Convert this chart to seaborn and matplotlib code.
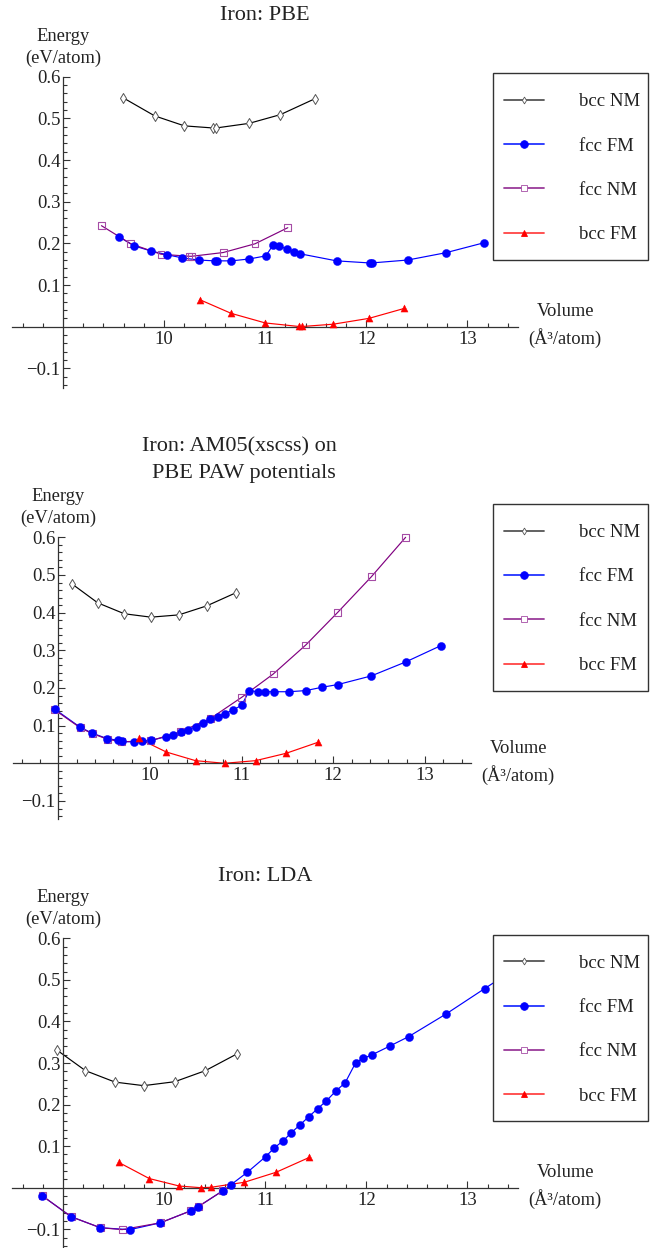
import numpy as np
import pandas as pd
import seaborn as sns
import matplotlib.pyplot as plt
from matplotlib.lines import Line2D
from matplotlib.patches import Rectangle
from matplotlib.ticker import FixedLocator, FuncFormatter

# ---------------- data: energy (eV/atom) vs volume (A^3/atom) ----------------
# PBE
pbe_bcc_nm_v = [9.597, 9.906, 10.20, 10.48, 10.515, 10.84, 11.15, 11.49]
pbe_bcc_nm_e = [0.549, 0.506, 0.482, 0.477, 0.477, 0.488, 0.509, 0.547]
pbe_fcc_fm_v = [9.552, 9.702, 9.866, 10.024, 10.181, 10.341, 10.499, 10.525, 10.666, 10.84,
                11.007, 11.079, 11.138, 11.213, 11.282, 11.344, 11.705, 12.033, 12.052,
                12.409, 12.787, 13.166]
pbe_fcc_fm_e = [0.216, 0.194, 0.182, 0.173, 0.165, 0.160, 0.158, 0.158, 0.158, 0.1625,
                0.170, 0.197, 0.193, 0.187, 0.180, 0.175, 0.158, 0.153, 0.153,
                0.160, 0.1776, 0.2016]
pbe_fcc_nm_v = [9.38, 9.67, 9.968, 10.246, 10.272, 10.584, 10.899, 11.223]
pbe_fcc_nm_e = [0.2424, 0.199, 0.174, 0.169, 0.169, 0.178, 0.199, 0.2376]
pbe_bcc_fm_v = [10.351, 10.663, 11.0, 11.334, 11.367, 11.672, 12.026, 12.377]
pbe_bcc_fm_e = [0.065, 0.032, 0.009, 0.0005, 0.0005, 0.006, 0.020, 0.044]

# AM05 (xscss) on PBE PAW potentials
am_bcc_nm_v = [9.145, 9.43, 9.72, 10.01, 10.315, 10.62, 10.94]
am_bcc_nm_e = [0.477, 0.426, 0.397, 0.388, 0.394, 0.418, 0.453]
am_fcc_fm_v = [8.96, 9.24, 9.37, 9.535, 9.655, 9.69, 9.825, 9.915, 10.01, 10.175, 10.255,
               10.335, 10.415, 10.5, 10.58, 10.66, 10.74, 10.82, 10.91, 11.0, 11.085,
               11.175, 11.26, 11.35, 11.515, 11.70, 11.88, 12.05, 12.415, 12.79, 13.175]
am_fcc_fm_e = [0.144, 0.0955, 0.080, 0.0655, 0.061, 0.058, 0.0567, 0.058, 0.061, 0.0705, 0.076,
               0.083, 0.089, 0.097, 0.106, 0.117, 0.124, 0.132, 0.142, 0.154, 0.193,
               0.190, 0.190, 0.190, 0.190, 0.193, 0.202, 0.209, 0.232, 0.269, 0.3125]
am_fcc_nm_v = [8.96, 9.24, 9.37, 9.535, 9.69, 10.01, 10.335, 10.66, 11.0, 11.345, 11.70,
               12.05, 12.415, 12.79]
am_fcc_nm_e = [0.142, 0.094, 0.079, 0.064, 0.057, 0.060, 0.084, 0.119, 0.175, 0.237, 0.314,
               0.401, 0.495, 0.600]
am_bcc_fm_v = [9.875, 10.178, 10.497, 10.814, 11.152, 11.485, 11.833]
am_bcc_fm_e = [0.066, 0.030, 0.007, 0.0, 0.007, 0.0265, 0.0557]

# LDA
lda_bcc_nm_v = [8.94, 9.222, 9.515, 9.797, 10.105, 10.407, 10.717]
lda_bcc_nm_e = [0.331, 0.2815, 0.254, 0.2455, 0.255, 0.2815, 0.3215]
lda_fcc_fm_v = [8.793, 9.08, 9.369, 9.66, 9.962, 10.263, 10.336, 10.579, 10.663, 10.824,
                11.004, 11.09, 11.177, 11.256, 11.343, 11.431, 11.518, 11.605, 11.70,
                11.79, 11.895, 11.968, 12.055, 12.234, 12.418, 12.789, 13.17, 13.55]
lda_fcc_fm_e = [-0.0193, -0.0698, -0.0963, -0.101, -0.0845, -0.0556, -0.0457, -0.0076,
                0.0076, 0.0373, 0.0746, 0.096, 0.1126, 0.132, 0.151, 0.171, 0.190, 0.209,
                0.233, 0.2523, 0.301, 0.311, 0.3196, 0.341, 0.3634, 0.418, 0.479, 0.539]
lda_fcc_nm_v = [8.793, 9.08, 9.369, 9.585, 9.962, 10.263, 10.336, 10.579]
lda_fcc_nm_e = [-0.0193, -0.0698, -0.0963, -0.1008, -0.0845, -0.0556, -0.0457, -0.0076]
lda_bcc_fm_v = [9.55, 9.853, 10.15, 10.363, 10.463, 10.792, 11.106, 11.437]
lda_bcc_fm_e = [0.061, 0.022, 0.004, 0.0, 0.001, 0.013, 0.037, 0.073]

phase_labels = ["bcc NM", "fcc FM", "fcc NM", "bcc FM"]
panel_titles = [["Iron: PBE"], ["Iron: AM05(xscss) on", "PBE PAW potentials"], ["Iron: LDA"]]
y_ticks = [-0.1, 0.1, 0.2, 0.3, 0.4, 0.5, 0.6]
x_ticks = [10, 11, 12, 13]

panels = [
    {"bcc NM": (pbe_bcc_nm_v, pbe_bcc_nm_e), "fcc FM": (pbe_fcc_fm_v, pbe_fcc_fm_e),
     "fcc NM": (pbe_fcc_nm_v, pbe_fcc_nm_e), "bcc FM": (pbe_bcc_fm_v, pbe_bcc_fm_e)},
    {"bcc NM": (am_bcc_nm_v, am_bcc_nm_e), "fcc FM": (am_fcc_fm_v, am_fcc_fm_e),
     "fcc NM": (am_fcc_nm_v, am_fcc_nm_e), "bcc FM": (am_bcc_fm_v, am_bcc_fm_e)},
    {"bcc NM": (lda_bcc_nm_v, lda_bcc_nm_e), "fcc FM": (lda_fcc_fm_v, lda_fcc_fm_e),
     "fcc NM": (lda_fcc_nm_v, lda_fcc_nm_e), "bcc FM": (lda_bcc_fm_v, lda_bcc_fm_e)},
]

# ---------------- styling ----------------
sns.set_style("ticks")
plt.rcParams["font.family"] = ["Liberation Serif", "DejaVu Serif"]
TXT = "#222222"
AX = "#333333"

styles = {
    "bcc NM": dict(line="#000000", lz=2.0, marker="d", s=26, fc="white", ec="#555555", mew=0.7, mz=3.0),
    "fcc FM": dict(line="#0000ff", lz=2.1, marker="o", s=34, fc="#0000ff", ec="#0000ff", mew=0.3, mz=3.2),
    "fcc NM": dict(line="#800080", lz=2.2, marker="s", s=24, fc="none", ec="#a54ca5", mew=0.8, mz=3.1),
    "bcc FM": dict(line="#ff0000", lz=2.3, marker="^", s=26, fc="#ff0000", ec="#ff0000", mew=0.3, mz=3.3),
}
legend_style = {
    "bcc NM": dict(color="#555555", marker="d", ms=3.5, mfc="white", mec="#555555"),
    "fcc FM": dict(color="#2233ff", marker="o", ms=5.5, mfc="#0000ff", mec="#0000ff"),
    "fcc NM": dict(color="#9a3a9a", marker="s", ms=4.0, mfc="white", mec="#a54ca5"),
    "bcc FM": dict(color="#ff4444", marker="^", ms=4.0, mfc="#ff0000", mec="#ff0000"),
}

W, H = 653, 1248
fig = plt.figure(figsize=(W / 100, H / 100), dpi=100)

# pixel layout of each panel: x-range px, y px of E=0.6 and E=0, legend box, title lines
layout = [
    dict(x0=12.5, x1=518.0, y06=76.7, y0=326.7, box=(492.7, 73.3, 648.3, 260.0),
         titles=[(265.2, 15.0)]),
    dict(x0=12.5, x1=470.7, y06=537.3, y0=763.3, box=(492.7, 504.0, 648.3, 691.0),
         titles=[(239.5, 446.7), (244.0, 473.3)]),
    dict(x0=12.5, x1=518.0, y06=938.3, y0=1187.7, box=(492.7, 934.7, 648.3, 1121.0),
         titles=[(265.2, 876.7)]),
]
XLIM = (8.5, 13.5)
YLIM = (-0.147, 0.6)

minor_x = [v for v in np.round(np.arange(8.6, 13.45, 0.2), 2) if abs(v - round(v)) > 1e-6]
minor_y = [v for v in np.round(np.arange(-0.14, 0.6, 0.02), 2)
           if abs(v * 10 - round(v * 10)) > 1e-6]


def fmt(v, _pos):
    return f"{v:.1f}".replace("-", "\u2212")


for data, lay, titles in zip(panels, layout, panel_titles):
    per_unit = (lay["y0"] - lay["y06"]) / 0.6
    ybot = lay["y0"] - YLIM[0] * per_unit
    ax = fig.add_axes([lay["x0"] / W, 1 - ybot / H,
                       (lay["x1"] - lay["x0"]) / W, (ybot - lay["y06"]) / H])
    ax.set_facecolor("none")

    for name in phase_labels:
        v, e = data[name]
        df = pd.DataFrame({"volume": v, "energy": e})
        st = styles[name]
        sns.lineplot(data=df, x="volume", y="energy", ax=ax, sort=False, estimator=None,
                     color=st["line"], linewidth=0.85, zorder=st["lz"], clip_on=False,
                     legend=False)
    for name in phase_labels:
        v, e = data[name]
        df = pd.DataFrame({"volume": v, "energy": e})
        st = styles[name]
        sns.scatterplot(data=df, x="volume", y="energy", ax=ax, marker=st["marker"],
                        s=st["s"], facecolor=st["fc"], edgecolor=st["ec"],
                        linewidth=st["mew"], zorder=st["mz"], clip_on=False, legend=False)

    ax.set_xlim(*XLIM)
    ax.set_ylim(*YLIM)
    ax.set_xlabel("")
    ax.set_ylabel("")
    for side in ("top", "right"):
        ax.spines[side].set_visible(False)
    ax.spines["left"].set_position(("data", 9))
    ax.spines["bottom"].set_position(("data", 0))
    for side in ("left", "bottom"):
        ax.spines[side].set_color(AX)
        ax.spines[side].set_linewidth(0.9)

    ax.xaxis.set_major_locator(FixedLocator(x_ticks))
    ax.xaxis.set_minor_locator(FixedLocator(minor_x))
    ax.yaxis.set_major_locator(FixedLocator(y_ticks))
    ax.yaxis.set_minor_locator(FixedLocator(minor_y))
    ax.yaxis.set_major_formatter(FuncFormatter(fmt))
    ax.tick_params(which="both", direction="in", color=AX, width=0.8,
                   labelcolor=TXT, labelsize=13.5)
    ax.tick_params(which="major", length=4.8)
    ax.tick_params(which="minor", length=2.9)
    ax.tick_params(axis="x", pad=3)
    ax.tick_params(axis="y", pad=2)

    # axis captions next to the axis ends
    ax.annotate("Energy", xy=(9, 0.6), xytext=(0, 29.3), textcoords="offset points",
                ha="center", va="center", fontsize=13.3, color=TXT)
    ax.annotate("(eV/atom)", xy=(9, 0.6), xytext=(0, 13.5), textcoords="offset points",
                ha="center", va="center", fontsize=13.3, color=TXT)
    ax.annotate("Volume", xy=(13.5, 0), xytext=(34.5, 10.8), textcoords="offset points",
                ha="center", va="center", fontsize=13.3, color=TXT)
    ax.annotate("(Å³/atom)", xy=(13.5, 0), xytext=(34, -8.3), textcoords="offset points",
                ha="center", va="center", fontsize=13.3, color=TXT)

    for text, (tx, ty) in zip(titles, lay["titles"]):
        fig.text(tx / W, 1 - ty / H, text, ha="center", va="center", fontsize=16, color=TXT)

    # framed legend box to the right of the curves
    bx0, by0, bx1, by1 = lay["box"]
    fig.add_artist(Rectangle((bx0 / W, 1 - by1 / H), (bx1 - bx0) / W, (by1 - by0) / H,
                             transform=fig.transFigure, facecolor="white",
                             edgecolor=AX, linewidth=1.0, zorder=1))
    handles = [Line2D([], [], linewidth=1.3, mew=0.6, **legend_style[n]) for n in phase_labels]
    fig.legend(handles, phase_labels, loc="upper left",
               bbox_to_anchor=(504 / W, 1 - (by0 + 20.0) / H), bbox_transform=fig.transFigure,
               frameon=False, borderpad=0, borderaxespad=0, handlelength=2.13,
               handletextpad=1.87, labelspacing=1.45, fontsize=13.5, labelcolor=TXT)

fig.savefig("out.png", dpi=100)
